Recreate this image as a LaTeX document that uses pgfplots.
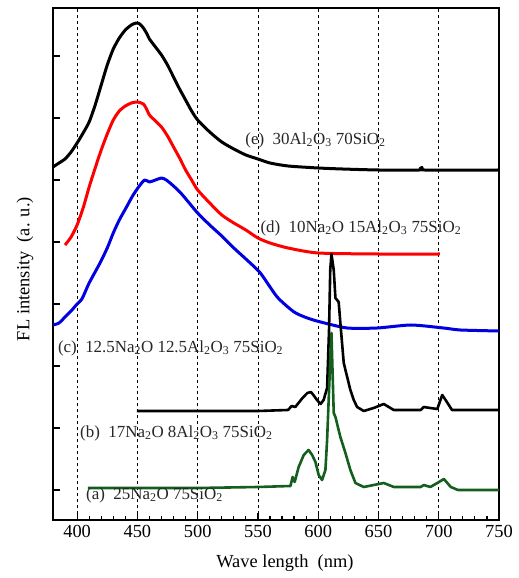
\documentclass[border=0pt]{standalone}
\usepackage{pgfplots}
\pgfplotsset{compat=1.18}
\usepackage{fontspec}
\setmainfont{Liberation Serif}
\definecolor{cred}{RGB}{255,0,0}
\definecolor{cblue}{RGB}{0,0,225}
\definecolor{cgreen}{RGB}{20,95,30}
\begin{document}
\begin{tikzpicture}
\begin{axis}[
  scale only axis,
  width=446bp, height=512bp,
  xmin=380, xmax=750, ymin=0, ymax=512,
  xtick={400,450,...,750},
  minor x tick num=4,
  ytick={30,92,154,216,278,340,402,464},
  yticklabels={},
  tick align=inside,
  xtick pos=lower, ytick pos=left,
  major tick length=7bp, minor tick length=4bp,
  every tick/.style={black, line width=1.2bp},
  axis line style={line width=2bp},
  xmajorgrids,
  major grid style={dashed, black, line width=0.7bp},
  /pgf/number format/assume math mode=true,
  /pgf/number format/set thousands separator={},
  ticklabel style={font=\fontsize{18.5}{20}\selectfont},
  xticklabel style={yshift=-2bp},
  xlabel={Wave length\ \ (nm)},
  ylabel={FL intensity\ \ (a. u.)},
  every axis x label/.style={at={(axis description cs:0.52,-0.084)},anchor=center,font=\fontsize{18.5}{20}\selectfont},
  every axis y label/.style={at={(axis description cs:-0.063,0.49)},rotate=90,anchor=center,font=\fontsize{18.5}{20}\selectfont},
  clip=true,
]
% (e)
\addplot[black, line width=3bp, line join=round, smooth, tension=0.4] coordinates {
(380,353)(385,357)(390,361)(395,368)(400,377)(405,387)(410,398)(415,415)(420,435)(425,455)(430,471)(435,482)(440,490)(445,495)(449,497)(452,496)(455,492)(458,486)(460,481)(465,473)(470,465)(475,455)(480,443)(485,431)(490,420)(495,409)(500,400)(510,388)(520,378)(530,371)(540,365)(550,361)(560,357)(575,354)(600,352)(620,351)(650,350)(684,350)(686,352.5)(688,350)(750,350)};
% (d)
\addplot[cred, line width=3bp, line join=round, smooth, tension=0.4] coordinates {
(390,275)(395,283)(400,295)(405,312)(410,333)(415,352)(420,370)(425,386)(430,400)(435,409)(440,414)(445,417)(450,418)(455,416)(458,410)(460,405)(465,399)(470,393)(475,384)(480,373)(485,362)(490,350)(495,340)(500,330)(510,317)(520,305)(530,297)(540,290)(550,282)(560,277)(575,272)(600,267)(650,266)(701,266)};
% (c)
\addplot[cblue, line width=3bp, line join=round, smooth, tension=0.4] coordinates {
(380,195)(385,197)(390,203)(395,209)(400,216)(404,221)(410,237)(419,257)(425,272)(430,287)(435,300)(441,313)(446,324)(451,333)(456,340)(460,338)(465,340)(470,342)(474,340)(480,334)(486,327)(493,317)(500,307)(510,295)(520,284)(530,272)(540,261)(552,247)(566,223)(580,208)(591,202)(602,198)(624,192)(649,192)(677,195)(704,192)(718,190)(750,189)};
% (b)
\addplot[black, line width=2.6bp, line join=round] coordinates {
(449.5,109)(500,109)(550,109)(575,110)(578,114)(581,113)(587,122)(591,127)(594,128)(596,125)(599,120)(602,116)(604.5,120)(607.4,132)(609,190)(610,250)(611,266)(612.9,250)(614.3,222)(617,218)(618.4,197)(621.2,157)(626.7,130)(629.5,120)(632.3,113)(637.8,109)(646,112)(654.4,116)(662.7,110)(685,110)(687.6,113)(693,112)(698.8,111)(702.9,125)(705.7,120)(711,110)(750,110)};
% (a)
\addplot[cgreen, line width=2.6bp, line join=round] coordinates {
(409,32)(500,32)(550,33)(577,34)(578.8,43)(580.5,38)(583.8,53)(588,65)(592,70)(595,65)(597.7,58)(600.4,45)(603.2,40)(606,50)(607.4,80)(608.7,120)(610,160)(611,187)(612.9,107)(614.3,103)(618.4,83)(622.6,67)(626.7,50)(630.9,37)(637.8,33)(654.4,37)(662.7,33)(685,33)(687.6,35)(693,33)(698.8,37)(704.3,41)(710,33)(716,30)(750,30)};
\begin{scope}[every node/.style={anchor=west, font=\fontsize{17}{18}\selectfont, text=black!85, inner sep=0pt}]
\node at (axis cs:539.5,380) {(e)\ \ 30Al\textsubscript{2}O\textsubscript{3} 70SiO\textsubscript{2}};
\node at (axis cs:552,292) {(d)\ \ 10Na\textsubscript{2}O 15Al\textsubscript{2}O\textsubscript{3} 75SiO\textsubscript{2}};
\node at (axis cs:384,172) {(c)\ \ 12.5Na\textsubscript{2}O 12.5Al\textsubscript{2}O\textsubscript{3} 75SiO\textsubscript{2}};
\node at (axis cs:402.4,87) {(b)\ \ 17Na\textsubscript{2}O 8Al\textsubscript{2}O\textsubscript{3} 75SiO\textsubscript{2}};
\node at (axis cs:407.4,25) {(a)\ \ 25Na\textsubscript{2}O 75SiO\textsubscript{2}};
\end{scope}
\end{axis}
\path (current axis.south west) ++(-53bp,-58bp) coordinate (bbA);
\path (current axis.north east) ++(20bp,8bp) coordinate (bbB);
\path (bbA) rectangle (bbB);
\end{tikzpicture}
\end{document}
